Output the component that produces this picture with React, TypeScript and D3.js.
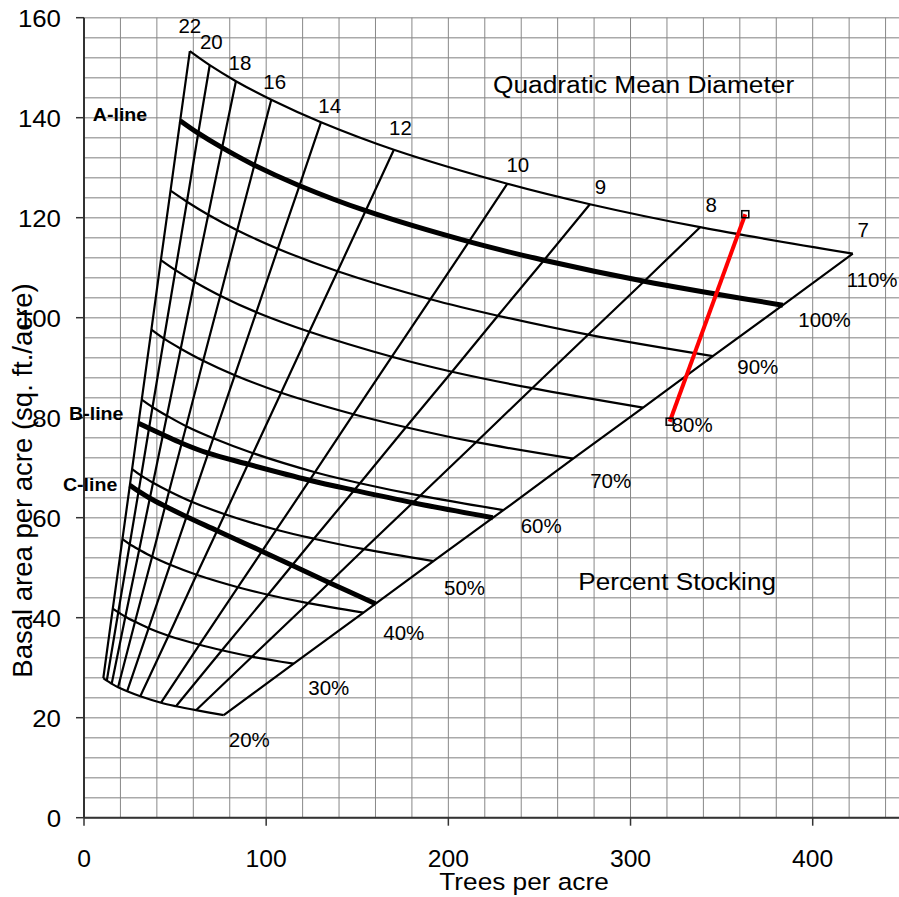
import React from "react";
import * as d3 from "d3";

const diameters = [22, 20, 18, 16, 14, 12, 10, 9, 8, 7];
const stockingLevels = [20, 30, 40, 50, 60, 70, 80, 90, 100, 110];

// trees per acre where each stocking line meets each diameter line (rows = stocking, cols = diameters)
const treesPerAcre = [
  [10.6, 12.5, 15.2, 18.7, 23.7, 30.9, 42.3, 50.5, 61.5, 76.7],
  [15.8, 18.8, 22.7, 28.0, 35.5, 46.4, 63.4, 75.7, 92.2, 115.1],
  [21.1, 25.1, 30.3, 37.4, 47.3, 61.8, 84.5, 101.0, 123.0, 153.4],
  [26.4, 31.4, 37.9, 46.7, 59.1, 77.3, 105.6, 126.2, 153.7, 191.8],
  [31.7, 37.6, 45.5, 56.1, 71.0, 92.8, 126.8, 151.5, 184.5, 230.2],
  [37.0, 43.9, 53.1, 65.4, 82.8, 108.2, 147.9, 176.7, 215.2, 268.5],
  [42.2, 50.2, 60.6, 74.8, 94.6, 123.7, 169.0, 202.0, 246.0, 306.9],
  [47.5, 56.5, 68.2, 84.1, 106.4, 139.2, 190.2, 227.2, 276.7, 345.2],
  [52.8, 62.7, 75.8, 93.5, 118.3, 154.6, 211.3, 252.5, 307.5, 383.6],
  [58.1, 69.0, 83.4, 102.8, 130.1, 170.1, 232.4, 277.7, 338.2, 422.0],
];

// basal area (sq. ft./acre) at the same intersections
const basalArea = [
  [27.9, 27.4, 26.8, 26.1, 25.3, 24.3, 23.0, 22.3, 21.5, 20.5],
  [41.8, 41.1, 40.2, 39.2, 37.9, 36.4, 34.6, 33.5, 32.2, 30.8],
  [55.7, 54.7, 53.6, 52.2, 50.6, 48.6, 46.1, 44.6, 42.9, 41.0],
  [69.7, 68.4, 67.0, 65.3, 63.2, 60.7, 57.6, 55.8, 53.7, 51.3],
  [83.6, 82.1, 80.4, 78.3, 75.9, 72.9, 69.1, 66.9, 64.4, 61.5],
  [97.6, 95.8, 93.8, 91.4, 88.5, 85.0, 80.7, 78.1, 75.1, 71.8],
  [111.5, 109.5, 107.2, 104.4, 101.1, 97.2, 92.2, 89.2, 85.9, 82.0],
  [125.4, 123.2, 120.6, 117.5, 113.8, 109.3, 103.7, 100.4, 96.6, 92.3],
  [139.4, 136.9, 134.0, 130.5, 126.4, 121.4, 115.2, 111.5, 107.3, 102.5],
  [153.3, 150.5, 147.3, 143.6, 139.1, 133.6, 126.8, 122.7, 118.1, 112.8],
];

const bLineTrees = [29.9, 35.7, 43.4, 53.7, 68.2, 90.0, 123.8, 148.2, 180.5, 224.4];
const bLineBasal = [78.9, 77.9, 76.6, 74.9, 72.9, 70.7, 67.5, 65.5, 63.0, 60.0];
const cLineTrees = [25.2, 29.9, 36.2, 44.6, 56.3, 73.1, 97.6, 114.2, 134.7, 160.0];
const cLineBasal = [66.5, 65.3, 63.9, 62.3, 60.2, 57.4, 53.3, 50.5, 47.0, 42.8];

// the red thinning line
const thinTrees = [363, 321.5];
const thinBasal = [120.7, 79.2];

const xTicks = [0, 100, 200, 300, 400];
const yTicks = [0, 20, 40, 60, 80, 100, 120, 140, 160];

// label nudges in pixels
const diamLabelOffset = [[0, -18], [1.6, -16], [4, -11], [3.4, -10.4], [8.7, -9.5], [6.6, -14.7], [10.4, -12], [10.6, -10], [11.2, -15.5], [10.5, -16.4]];
const pctLabelOffset = [[5, 31.5], [14.6, 31.3], [19.8, 27.3], [10.6, 33.8], [17.3, 23.1], [17, 29], [28.6, 24], [24.4, 17.8], [15.5, 22.1], [-6.1, 33]];

const W = 899;
const H = 897;
const FONT = "'Liberation Sans', Arial, sans-serif";

const x = d3.scaleLinear().domain([0, 450]).range([84, 84 + 450 * 1.82175]);
const y = d3.scaleLinear().domain([0, 160]).range([817.7, 17.7]);

function Txt({ x, y, size, sx = 1, anchor = "start", weight = "normal", rotate = 0, children }: any) {
  return (
    <g transform={`translate(${x},${y}) rotate(${rotate}) scale(${sx},1)`}>
      <text fontSize={size} fontFamily={FONT} textAnchor={anchor} fontWeight={weight} fill="#000">
        {children}
      </text>
    </g>
  );
}

export default function App() {
  const smooth = d3
    .line<number[]>()
    .x((d) => x(d[0]))
    .y((d) => y(d[1]))
    .curve(d3.curveCatmullRom.alpha(0.5));
  const straight = d3
    .line<number[]>()
    .x((d) => x(d[0]))
    .y((d) => y(d[1]));

  const stockRows = stockingLevels.map((_, i) => treesPerAcre[i].map((n, j) => [n, basalArea[i][j]]));
  const diamCols = diameters.map((_, j) => stockingLevels.map((_, i) => [treesPerAcre[i][j], basalArea[i][j]]));
  const bLine = bLineTrees.map((n, i) => [n, bLineBasal[i]]);
  const cLine = cLineTrees.map((n, i) => [n, cLineBasal[i]]);
  const thin = thinTrees.map((n, i) => [n, thinBasal[i]]);

  const x0 = x(0);
  const y0 = y(0);
  const yTop = y(160);

  return (
    <svg width={W} height={H} style={{ position: "absolute", left: 0, top: 0, background: "#fff" }}>
      {/* grid */}
      {d3.range(0, 161, 4).map((v) => (
        <line key={"h" + v} x1={x0} x2={W} y1={y(v)} y2={y(v)} stroke="#aaaaaa" strokeWidth={1.5} />
      ))}
      {d3.range(20, 441, 20).map((v) => (
        <line key={"v" + v} x1={x(v)} x2={x(v)} y1={yTop} y2={y0} stroke="#888" strokeWidth={1} />
      ))}

      {/* axes */}
      <line x1={x0} x2={x0} y1={yTop} y2={y0} stroke="#333" strokeWidth={2} />
      <line x1={x0} x2={W} y1={y0} y2={y0} stroke="#333" strokeWidth={2} />
      {yTicks.map((v) => (
        <g key={"yt" + v}>
          <line x1={x0 - 8} x2={x0} y1={y(v)} y2={y(v)} stroke="#333" strokeWidth={1.5} />
          <Txt x={61} y={y(v) + 9} size={23.5} sx={1.1} anchor="end">{v}</Txt>
        </g>
      ))}
      {xTicks.map((v) => (
        <g key={"xt" + v}>
          <line x1={x(v)} x2={x(v)} y1={y0} y2={y0 + 8} stroke="#333" strokeWidth={1.5} />
          <Txt x={x(v)} y={866.7} size={23.5} sx={1.05} anchor="middle">{v}</Txt>
        </g>
      ))}

      {/* diameter lines */}
      {diamCols.map((pts, j) => (
        <path key={"d" + j} d={straight(pts) || ""} fill="none" stroke="#000" strokeWidth={2.2} />
      ))}

      {/* stocking lines */}
      {stockRows.map((pts, i) => (
        <path
          key={"s" + i}
          d={smooth(pts) || ""}
          fill="none"
          stroke="#000"
          strokeWidth={stockingLevels[i] === 100 ? 5 : 2.2}
        />
      ))}
      <path d={smooth(bLine) || ""} fill="none" stroke="#000" strokeWidth={5} />
      <path d={smooth(cLine) || ""} fill="none" stroke="#000" strokeWidth={5} />

      {/* thinning */}
      <path d={straight(thin) || ""} fill="none" stroke="#ff0000" strokeWidth={4} />
      {thin.map((p, i) => (
        <rect key={"m" + i} x={x(p[0]) - 3.5} y={y(p[1]) - 3.5} width={7} height={7} fill="none" stroke="#000" strokeWidth={1.5} />
      ))}

      {/* diameter labels */}
      {diameters.map((d, j) => {
        const p = diamCols[j][diamCols[j].length - 1];
        return (
          <Txt key={"dl" + d} x={x(p[0]) + diamLabelOffset[j][0]} y={y(p[1]) + diamLabelOffset[j][1]} size={19.5} sx={1.05} anchor="middle">
            {d}
          </Txt>
        );
      })}

      {/* percent labels */}
      {stockingLevels.map((s, i) => {
        const p = stockRows[i][stockRows[i].length - 1];
        return (
          <Txt key={"pl" + s} x={x(p[0]) + pctLabelOffset[i][0]} y={y(p[1]) + pctLabelOffset[i][1]} size={20.5}>
            {s + "%"}
          </Txt>
        );
      })}

      {/* line names */}
      <Txt x={x(stockRows[8][0][0]) - 33} y={y(stockRows[8][0][1]) + 0.6} size={17.5} sx={1.12} anchor="end" weight="bold">A-line</Txt>
      <Txt x={x(bLine[0][0]) - 15} y={y(bLine[0][1]) - 3} size={17.5} sx={1.12} anchor="end" weight="bold">B-line</Txt>
      <Txt x={x(cLine[0][0]) - 12.6} y={y(cLine[0][1]) + 6} size={17.5} sx={1.12} anchor="end" weight="bold">C-line</Txt>

      <Txt x={493} y={93} size={23.5} sx={1.12}>Quadratic Mean Diameter</Txt>
      <Txt x={578.3} y={590} size={24} sx={1.09}>Percent Stocking</Txt>

      {/* axis titles */}
      <Txt x={439.3} y={890} size={24.5} sx={1.07}>Trees per acre</Txt>
      <Txt x={31.5} y={480.5} size={27.5} rotate={-90} anchor="middle">Basal area per acre (sq. ft./acre)</Txt>
    </svg>
  );
}
